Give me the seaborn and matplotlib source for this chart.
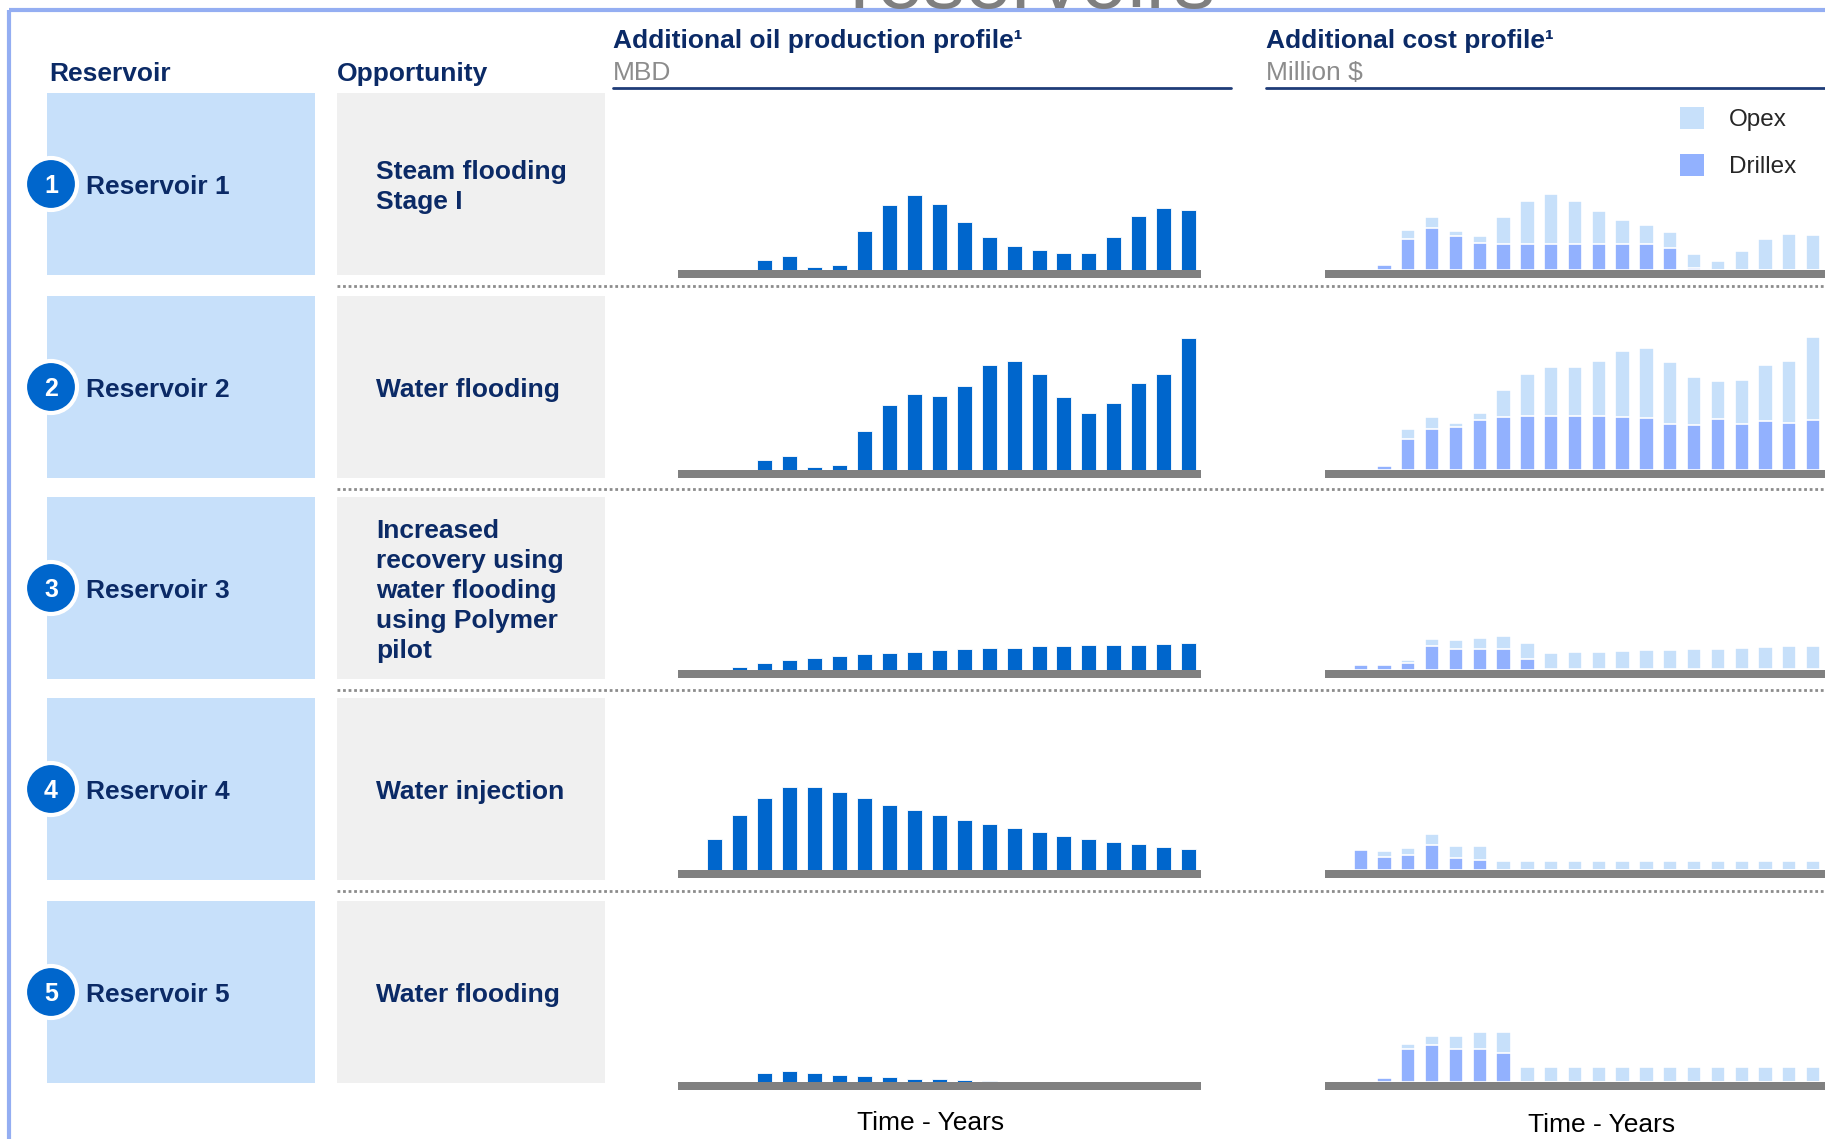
import numpy as np
import matplotlib
matplotlib.use("Agg")
import matplotlib.pyplot as plt
from matplotlib.patches import Rectangle, Circle, Patch
import seaborn as sns

# Data (arbitrary units)
years = np.arange(21)
reservoirs = ['Reservoir 1', 'Reservoir 2', 'Reservoir 3', 'Reservoir 4', 'Reservoir 5']
opportunities = ['Steam flooding\nStage I',
                 'Water flooding',
                 'Increased\nrecovery using\nwater flooding\nusing Polymer\npilot',
                 'Water injection',
                 'Water flooding']

oil_r1 = [0, 0, 0, 10, 14, 3, 5, 39, 65, 75, 66, 48, 33, 24, 20, 17, 17, 33, 54, 62, 60]
oil_r2 = [0, 0, 0, 10, 14, 3, 5, 39, 65, 76, 74, 84, 105, 109, 96, 73, 57, 67, 87, 96, 132]
oil_r3 = [0, 0, 3.3, 7.3, 10, 12.3, 14, 16, 17, 18.3, 19.7, 21, 21.7, 22.3, 23.7, 24.3, 25, 25.3, 25.3, 26, 26.7]
oil_r4 = [0, 30.7, 54.7, 71.7, 82.7, 82.7, 78, 71.7, 65.3, 60, 55, 50, 45.7, 41.7, 37.7, 34.3, 31.3, 28.3, 25.7, 23, 21]
oil_r5 = [0, 0, 0.3, 8.7, 11, 9, 7, 6, 4.7, 3.3, 2.7, 1.7, 1, 0.3, 0, 0, 0, 0, 0, 0, 0]

drillex_r1 = [0, 0, 5, 31, 42, 34, 27, 26, 26, 26, 26, 26, 26, 26, 22, 2, 0, 0, 0, 0, 0]
opex_r1 = [0, 0, 0, 9, 11, 5, 7, 27, 43, 50, 43, 33, 24, 19, 16, 14, 9, 19, 31, 36, 35]
drillex_r2 = [0, 0, 4, 31, 41, 43, 50, 53, 54, 54, 54, 54, 53, 52, 46, 45, 51, 46, 49, 47, 50]
opex_r2 = [0, 0, 0, 10, 12, 4, 7, 27, 42, 49, 49, 55, 66, 70, 62, 48, 38, 44, 56, 62, 83]
drillex_r3 = [0, 5, 5, 7, 24, 21, 21, 21, 11, 1.3, 1.3, 1.3, 1.3, 1.3, 1.3, 1.3, 1.3, 1.3, 1.3, 1.3, 1.3]
opex_r3 = [0, 0, 0, 3, 7, 9, 11, 13, 16, 16, 17, 17, 18, 19, 19, 20, 20, 21, 22, 23, 23]
drillex_r4 = [0, 20, 13, 15, 25, 12, 10, 0, 0, 0, 0, 0, 0, 0, 0, 0, 0, 0, 0, 0, 0]
opex_r4 = [0, 0, 6, 7, 11, 12, 14, 9, 9, 9, 9, 9, 9, 9, 9, 9, 9, 9, 9, 9, 9]
drillex_r5 = [0, 0, 4, 33, 37, 33, 33, 29, 0, 0, 0, 0, 0, 0, 0, 0, 0, 0, 0, 0, 0]
opex_r5 = [0, 0, 0, 5, 9, 13, 17, 21, 15, 15, 15, 15, 15, 15, 15, 15, 15, 15, 15, 15, 15]

oil_rows = [oil_r1, oil_r2, oil_r3, oil_r4, oil_r5]
drillex_rows = [drillex_r1, drillex_r2, drillex_r3, drillex_r4, drillex_r5]
opex_rows = [opex_r1, opex_r2, opex_r3, opex_r4, opex_r5]

# Style
sns.set_theme(style="white")
plt.rcParams['font.family'] = ['Liberation Sans', 'DejaVu Sans']

NAVY = '#0B2A66'
OIL = '#0066CC'
DRILLEX = '#92B1FE'
OPEX = '#C7E0FA'
BOX_BLUE = '#C7E0FA'
BOX_GRAY = '#F0F0F0'
BASE = '#808080'

W, H = 1825, 1139
fig = plt.figure(figsize=(W / 100, H / 100), dpi=100)

# background canvas in pixel coordinates
cv = fig.add_axes([0, 0, 1, 1])
cv.set_xlim(0, W)
cv.set_ylim(H, 0)
cv.axis('off')

# cut title and frame
cv.text(1033, 8, 'reservoirs', fontsize=60, color='#7F7F7F', ha='center', va='baseline')
cv.plot([9, W], [10, 10], color='#94AEF2', lw=3, solid_capstyle='butt')
cv.plot([9, 9], [10, H], color='#94AEF2', lw=3, solid_capstyle='butt')

# headers
cv.text(49, 74, 'Reservoir', fontsize=19, fontweight='bold', color=NAVY, va='center')
cv.text(337, 74, 'Opportunity', fontsize=19, fontweight='bold', color=NAVY, va='center')
cv.text(613, 41, 'Additional oil production profile\u00b9', fontsize=19, fontweight='bold', color=NAVY, va='center')
cv.text(613, 73, 'MBD', fontsize=19, color='#8C8C8C', va='center')
cv.text(1266, 41, 'Additional cost profile\u00b9', fontsize=19, fontweight='bold', color=NAVY, va='center')
cv.text(1266, 73, 'Million $', fontsize=19, color='#8C8C8C', va='center')
cv.plot([613, 1231], [88, 88], color='#1F3C78', lw=2)
cv.plot([1266, W], [88, 88], color='#1F3C78', lw=2)

# row boxes
box_top = [93, 296, 497, 698, 901]
box_h = 182
row_zero = [270, 470, 670, 870, 1082]
for i in range(5):
    top = box_top[i]
    cy = top + box_h / 2
    cv.add_patch(Rectangle((47, top), 268, box_h, facecolor=BOX_BLUE, edgecolor='none'))
    cv.add_patch(Rectangle((337, top), 268, box_h, facecolor=BOX_GRAY, edgecolor='none'))
    cv.add_patch(Circle((51, cy), 26, facecolor=OIL, edgecolor='white', lw=3, zorder=3))
    cv.text(51, cy + 2, str(i + 1), fontsize=18, fontweight='bold', color='white',
            ha='center', va='center', zorder=4)
    cv.text(86, cy + 3, reservoirs[i], fontsize=19, fontweight='bold', color=NAVY, va='center')
    cv.text(376, cy + 3, opportunities[i], fontsize=19, fontweight='bold', color=NAVY,
            va='center', ha='left', linespacing=1.32)
    if i < 4:
        yd = top + box_h + 11
        cv.plot([337, W], [yd, yd], color='#8C8C8C', lw=2, ls=(0, (1, 1)))

cv.text(931, 1123, 'Time - Years', fontsize=19, color='black', ha='center', va='center')
cv.text(1602, 1125, 'Time - Years', fontsize=19, color='black', ha='center', va='center')

YMAX = 140
BASE_H = 8


def make_axes(x0, width, y_zero):
    ax = fig.add_axes([x0 / W, (H - y_zero - BASE_H) / H, width / W, (YMAX + BASE_H) / H])
    ax.set_facecolor('none')
    return ax


def finish(ax):
    ax.axhspan(-BASE_H, 0, color=BASE, zorder=3, lw=0)
    ax.set_xlim(-0.5, 20.5)
    ax.set_ylim(-BASE_H, YMAX)
    ax.axis('off')


for i in range(5):
    # oil production profile
    ax = make_axes(677.5, 523.6, row_zero[i])
    sns.barplot(x=years, y=oil_rows[i], color=OIL, saturation=1, width=0.6,
                edgecolor='white', linewidth=0.6, errorbar=None, ax=ax)
    finish(ax)

    # cost profile: opex stacked on drillex
    total = np.array(drillex_rows[i]) + np.array(opex_rows[i])
    axc = make_axes(1325, 500, row_zero[i])
    sns.barplot(x=years, y=total, color=OPEX, saturation=1, width=0.6,
                edgecolor='white', linewidth=1.2, errorbar=None, ax=axc)
    sns.barplot(x=years, y=drillex_rows[i], color=DRILLEX, saturation=1, width=0.6,
                edgecolor='white', linewidth=1.2, errorbar=None, ax=axc)
    finish(axc)

handles = [Patch(facecolor=OPEX, edgecolor='none', label='Opex'),
           Patch(facecolor=DRILLEX, edgecolor='none', label='Drillex')]
fig.legend(handles=handles, loc='upper left', bbox_to_anchor=(1680 / W, 1 - 107 / H),
           frameon=False, fontsize=17.5, handlelength=1.0, handleheight=1.0,
           handletextpad=1.0, labelspacing=0.95, borderpad=0, borderaxespad=0)

fig.savefig('out.png', dpi=100)
